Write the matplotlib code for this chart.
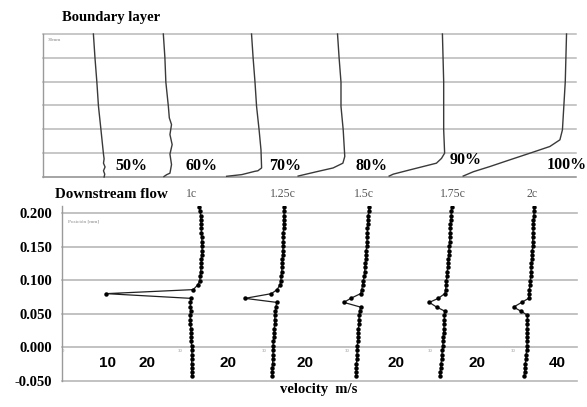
import matplotlib
matplotlib.use("Agg")
import matplotlib.pyplot as plt

# ---------------- data ----------------
# Boundary layer profiles (height in mm, velocity u relative to wall foot)
bl_labels = ["50%", "60%", "70%", "80%", "90%", "100%"]
bl_h_50 = [0.0, 0.6, 1.3, 2.1, 2.9, 3.8, 4.8, 9.9, 14.9, 19.9, 25.0, 30.0]
bl_u_50 = [0.0, 0.2, -0.2, 0.3, -0.2, 0.0, -0.2, -1.0, -1.8, -2.3, -2.9, -3.4]
bl_h_60 = [0.1, 0.5, 0.8, 2.6, 4.8, 6.8, 8.9, 11.0, 12.4, 14.8, 19.9, 25.0, 30.0]
bl_u_60 = [0.0, 0.9, 1.9, 2.4, 1.9, 2.6, 1.9, 2.4, 1.7, 1.4, 0.6, 0.3, -0.2]
bl_h_70 = [0.15, 0.5, 1.2, 1.3, 1.9, 5.7, 9.9, 14.8, 19.9, 25.0, 30.0]
bl_u_70 = [0.0, 4.8, 9.0, 9.9, 11.1, 10.9, 10.3, 9.5, 9.0, 8.4, 7.9]
bl_h_80 = [0.2, 1.1, 1.9, 2.9, 4.3, 9.9, 14.8, 19.9, 25.0, 30.0]
bl_u_80 = [0.0, 5.8, 11.1, 14.2, 14.8, 14.3, 13.6, 13.6, 13.0, 12.5]
bl_h_90 = [0.2, 0.6, 1.5, 2.2, 2.9, 3.9, 5.0, 9.9, 20.0, 30.0]
bl_u_90 = [0.0, 1.3, 6.6, 10.8, 15.0, 16.6, 17.6, 17.3, 17.3, 16.9]
bl_h_100 = [0.2, 1.1, 2.2, 3.6, 5.0, 6.4, 7.8, 9.9, 20.0, 30.0]
bl_u_100 = [0.0, 3.2, 8.5, 14.8, 21.2, 27.5, 30.7, 31.5, 32.4, 32.8]

# Downstream flow profiles (position in mm, velocity in m/s)
ds_labels = ["1c", "1.25c", "1.5c", "1.75c", "2c"]
ds_pos = [0.209, 0.203, 0.196, 0.190, 0.183, 0.177, 0.170, 0.164, 0.157, 0.151,
          0.144, 0.138, 0.132, 0.125, 0.119, 0.112, 0.106, 0.099, 0.093, 0.086,
          0.080, 0.073, 0.067, 0.060, 0.054, 0.048, 0.041, 0.035, 0.028, 0.022,
          0.015, 0.009, 0.002, -0.004, -0.011, -0.017, -0.024, -0.030, -0.037, -0.043]
ds_v_1c = [33.5, 33.7, 33.8, 33.8, 33.9, 34.0, 34.0, 34.1, 34.1, 34.1,
           34.2, 34.1, 34.0, 34.0, 33.9, 33.8, 33.7, 33.6, 33.1, 32.0,
           10.6, 31.4, 31.3, 31.3, 31.4, 31.2, 31.3, 31.3, 31.4, 31.4,
           31.5, 31.5, 31.6, 31.6, 31.7, 31.6, 31.6, 31.6, 31.6, 31.6]
ds_v_125c = [33.7, 33.7, 33.7, 33.6, 33.6, 33.6, 33.5, 33.5, 33.5, 33.5,
             33.4, 33.4, 33.3, 33.3, 33.2, 33.1, 33.0, 32.9, 32.7, 32.0,
             30.6, 24.1, 31.9, 31.7, 31.6, 31.5, 31.4, 31.4, 31.3, 31.3,
             31.2, 31.1, 31.0, 31.0, 31.0, 30.9, 30.9, 30.8, 30.8, 30.8]
ds_v_15c = [34.2, 34.1, 34.0, 33.9, 33.9, 33.8, 33.8, 33.7, 33.7, 33.6,
            33.5, 33.4, 33.4, 33.3, 33.2, 33.1, 33.0, 32.8, 32.6, 32.4,
            32.1, 29.7, 28.0, 32.1, 31.9, 31.8, 31.7, 31.7, 31.6, 31.5,
            31.5, 31.4, 31.3, 31.3, 31.2, 31.2, 31.1, 31.1, 31.0, 31.0]
ds_v_175c = [34.1, 34.0, 34.0, 33.9, 33.8, 33.8, 33.7, 33.6, 33.6, 33.5,
             33.4, 33.4, 33.3, 33.2, 33.1, 33.0, 32.9, 32.8, 32.7, 32.6,
             32.4, 30.8, 28.6, 30.4, 32.4, 32.3, 32.3, 32.2, 32.2, 32.1,
             32.0, 32.0, 31.9, 31.8, 31.7, 31.6, 31.5, 31.4, 31.3, 31.2]
ds_v_2c = [34.2, 34.1, 34.1, 34.0, 34.0, 33.9, 33.9, 33.8, 33.8, 33.8,
           33.7, 33.6, 33.6, 33.5, 33.4, 33.4, 33.3, 33.2, 33.1, 33.0,
           32.9, 32.8, 31.1, 29.1, 30.9, 32.5, 32.5, 32.5, 32.4, 32.4,
           32.4, 32.4, 32.4, 32.3, 32.2, 32.1, 32.0, 31.9, 31.8, 31.7]
ds_yticks = [-0.050, 0.000, 0.050, 0.100, 0.150, 0.200]
ds_ytick_labels = ["-0.050", "0.000", "0.050", "0.100", "0.150", "0.200"]
ds_axis_labels = ["10", "20", "20", "20", "20", "20", "40"]

# ---------------- layout ----------------
W, H = 587, 407
fig = plt.figure(figsize=(W / 100, H / 100), dpi=100)
fig.patch.set_facecolor("white")

SERIF = ["Liberation Serif", "DejaVu Serif"]
SANS = ["Liberation Sans", "DejaVu Sans"]


def px(x, y):
    return x / W, 1 - y / H


def ftext(x, y, s, **kw):
    fx, fy = px(x, y)
    fig.text(fx, fy, s, **kw)


GRID = "#b8b8b8"

# ---------- top: boundary layer ----------
ax1 = fig.add_axes([43 / W, (H - 177) / H, 533 / W, 143 / H])
ax1.set_xlim(0, 533 / 3.15)
ax1.set_ylim(0, 30)
for yv in [5, 10, 15, 20, 25, 30]:
    ax1.axhline(yv, color=GRID, lw=1.1, zorder=1, clip_on=False)
ax1.axhline(0, color="#8c8c8c", lw=1.1, zorder=1, clip_on=False)
for s in ["top", "right", "bottom"]:
    ax1.spines[s].set_visible(False)
ax1.spines["left"].set_color("#9a9a9a")
ax1.spines["left"].set_linewidth(1.0)
ax1.set_xticks([])
ax1.set_yticks([])

bl_offsets = [19.4, 38.4, 58.3, 81.0, 109.9, 133.4]
bl_h = [bl_h_50, bl_h_60, bl_h_70, bl_h_80, bl_h_90, bl_h_100]
bl_u = [bl_u_50, bl_u_60, bl_u_70, bl_u_80, bl_u_90, bl_u_100]
for off, hh, uu in zip(bl_offsets, bl_h, bl_u):
    ax1.plot([off + u for u in uu], hh, color="#3a3a3a", lw=1.0, zorder=3,
             clip_on=False)

ftext(48, 40, "30mm", fontsize=3.8, color="#888888", family=SERIF, va="center")
ftext(62, 17, "Boundary layer", fontsize=10.5, fontweight="bold",
      family=SERIF, va="center")
bl_label_pos = [(131, 166), (201, 166), (285, 166), (371, 166), (466, 160), (567, 165)]
for (lx, ly), lab in zip(bl_label_pos, bl_labels):
    ftext(lx, ly, lab, fontsize=11.5, fontweight="bold", family=SERIF,
          ha="center", va="center")

# ---------- bottom: downstream flow ----------
ax2 = fig.add_axes([62 / W, (H - 381) / H, 515 / W, (381 - 206.3) / H])
ax2.set_xlim(-0.25, (577 - 63) / 4.07)
ax2.set_ylim(-0.05, 0.21)
for yv in ds_yticks:
    ax2.axhline(yv, color=GRID, lw=1.2, zorder=1, clip_on=False)
for s in ["top", "right", "bottom"]:
    ax2.spines[s].set_visible(False)
ax2.spines["left"].set_color("#9a9a9a")
ax2.spines["left"].set_linewidth(1.0)
ax2.set_xticks([])
ax2.set_yticks(ds_yticks)
ax2.set_yticklabels(ds_ytick_labels, fontsize=10.5, fontweight="bold",
                    family=SERIF)
ax2.tick_params(axis="y", length=0, pad=7)

ds_offsets = [0.0, 20.6, 41.0, 61.4, 81.6]
ds_v = [ds_v_1c, ds_v_125c, ds_v_15c, ds_v_175c, ds_v_2c]
for off, vv in zip(ds_offsets, ds_v):
    ax2.plot([off + v for v in vv], ds_pos, color="#202020", lw=0.9,
             marker="o", markersize=2.2, markerfacecolor="black",
             markeredgecolor="black", zorder=3)

# tiny original sub-axis labels
ax2.text(0.0, -0.002, "0", fontsize=3.5, color="#999999", ha="center",
         va="top", family=SERIF)
for off in ds_offsets:
    ax2.text(off + 29.5, -0.002, "30", fontsize=3.5, color="#999999",
             ha="right", va="top", family=SERIF)

ftext(68, 222, "Posición [mm]", fontsize=3.8, color="#888888",
      family=SERIF, va="center")
ftext(55, 194, "Downstream flow", fontsize=10.8, fontweight="bold",
      family=SERIF, va="center")
ds_label_x = [192, 283, 364, 453, 532]
for lx, lab in zip(ds_label_x, ds_labels):
    ftext(lx, 194, lab, fontsize=8.5, color="#555555", family=SERIF,
          ha="center", va="center")
ds_axis_label_x = [107, 147, 228, 305, 396, 477, 557]
for lx, lab in zip(ds_axis_label_x, ds_axis_labels):
    ftext(lx, 363, lab, fontsize=11, fontweight="bold", family=SANS,
          ha="center", va="center")
ftext(319, 390, "velocity  m/s", fontsize=10.5, fontweight="bold",
      family=SERIF, ha="center", va="center")

fig.savefig("out.png", dpi=100, facecolor="white")
